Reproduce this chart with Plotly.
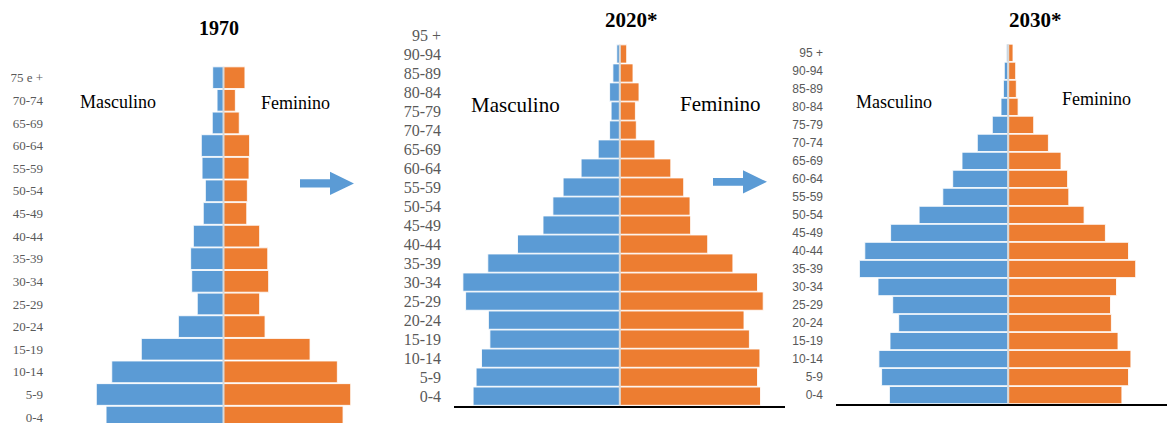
import plotly.graph_objects as go

# ---- data: share of population (%) by age group and sex ----
ages_1970 = ["0-4", "5-9", "10-14", "15-19", "20-24", "25-29", "30-34", "35-39",
             "40-44", "45-49", "50-54", "55-59", "60-64", "65-69", "70-74", "75 e +"]
male_1970 = [7.83, 8.48, 7.45, 5.48, 3.01, 1.75, 2.12, 2.19,
             2.01, 1.35, 1.21, 1.43, 1.48, 0.75, 0.43, 0.72]
female_1970 = [7.97, 8.48, 7.59, 5.77, 2.77, 2.41, 3.01, 2.95,
               2.41, 1.55, 1.59, 1.70, 1.74, 1.05, 0.79, 1.43]

ages_proj = ["0-4", "5-9", "10-14", "15-19", "20-24", "25-29", "30-34", "35-39",
             "40-44", "45-49", "50-54", "55-59", "60-64", "65-69", "70-74",
             "75-79", "80-84", "85-89", "90-94", "95 +"]
male_2020 = [4.89, 4.79, 4.61, 4.33, 4.38, 5.14, 5.23, 4.40, 3.41, 2.56,
             2.23, 1.89, 1.29, 0.72, 0.34, 0.29, 0.34, 0.23, 0.10, 0.0]
female_2020 = [4.69, 4.59, 4.67, 4.32, 4.14, 4.78, 4.59, 3.77, 2.93, 2.36,
               2.34, 2.13, 1.70, 1.17, 0.55, 0.52, 0.64, 0.44, 0.23, 0.0]
male_2030 = [3.96, 4.22, 4.31, 3.94, 3.65, 3.85, 4.34, 4.96, 4.78, 3.92,
             2.97, 2.18, 1.85, 1.54, 1.03, 0.53, 0.24, 0.16, 0.13, 0.06]
female_2030 = [3.79, 4.01, 4.09, 3.66, 3.44, 3.41, 3.61, 4.25, 4.01, 3.24,
               2.53, 2.02, 1.98, 1.76, 1.34, 0.85, 0.33, 0.27, 0.25, 0.16]

titles = ["1970", "2020*", "2030*"]

BLUE = "#5B9BD5"
ORANGE = "#ED7D31"
W, H = 1167, 425
SERIF = "Liberation Serif, Times New Roman, serif"
SANS = "Liberation Sans, Arial, sans-serif"


def px(x):
    return x / W


def py(y):
    return 1 - y / H


# panel geometry (pixels): left, right, zero position, px per unit, top, bottom,
# bottom clip in category units
panels = [
    dict(ages=ages_1970, m=male_1970, f=female_1970, l=48, r=390, c=223.5, k=15.0,
         top=66.7, bot=425, ymin=-0.26, font=dict(family=SERIF, size=13, color="#595959"),
         stand=4, line=False),
    dict(ages=ages_proj, m=male_2020, f=female_2020, l=454, r=785, c=619.8, k=30.0,
         top=25.6, bot=407.6, ymin=-0.5, font=dict(family=SERIF, size=16, color="#595959"),
         stand=12, line=True),
    dict(ages=ages_proj, m=male_2030, f=female_2030, l=836, r=1167, c=1008.2, k=30.0,
         top=44, bot=406, ymin=-0.5, font=dict(family=SANS, size=12, color="#595959"),
         stand=12, line=True),
]

fig = go.Figure()
layout = dict(
    width=W, height=H, margin=dict(l=0, r=0, t=0, b=0),
    paper_bgcolor="white", plot_bgcolor="white",
    barmode="relative", bargap=0.04, showlegend=False,
)
shapes = []
annotations = []

for i, p in enumerate(panels):
    n = "" if i == 0 else str(i + 1)
    xa, ya = "x" + n, "y" + n
    fig.add_trace(go.Bar(y=p["ages"], x=[-v for v in p["m"]], orientation="h",
                         marker=dict(color=BLUE, line=dict(color="rgba(255,255,255,0.85)", width=1)),
                         xaxis=xa, yaxis=ya, name="Masculino"))
    fig.add_trace(go.Bar(y=p["ages"], x=p["f"], orientation="h",
                         marker=dict(color=ORANGE, line=dict(color="rgba(255,255,255,0.85)", width=1)),
                         xaxis=xa, yaxis=ya, name="Feminino"))
    x_range = [-(p["c"] - p["l"]) / p["k"], (p["r"] - p["c"]) / p["k"]]
    ncat = len(p["ages"])
    layout["xaxis" + n] = dict(
        domain=[px(p["l"]), px(p["r"])], range=x_range, anchor=ya,
        showgrid=False, zeroline=False, showticklabels=False, ticks="",
        showline=p["line"], linecolor="black", linewidth=2, fixedrange=True,
    )
    layout["yaxis" + n] = dict(
        domain=[py(p["bot"]), py(p["top"])], range=[p["ymin"], ncat - 0.5],
        anchor=xa, type="category", categoryorder="array", categoryarray=p["ages"],
        showgrid=False, zeroline=False, showline=False, ticks="",
        tickfont=p["font"], ticklabelstandoff=p["stand"], fixedrange=True,
    )
    # centre divider, running only alongside the visible bars
    top_idx = max(j for j in range(ncat) if p["m"][j] + p["f"][j] > 0.1)
    shapes.append(dict(type="line", xref=xa, yref=ya, x0=0, x1=0, y0=-0.5, y1=top_idx + 0.48,
                       line=dict(color="#D9D9D9", width=2), layer="above"))

# titles and side labels
title_pos = [(219, 28.5, 20), (631, 20.5, 21), (1035, 20, 21)]
for t, (x, y, s) in zip(titles, title_pos):
    annotations.append(dict(text="<b>" + t + "</b>", x=px(x), y=py(y), xref="paper", yref="paper",
                            xanchor="center", yanchor="middle", showarrow=False,
                            font=dict(family=SERIF, size=s, color="black")))

side_pos = [((79, 102), (260, 103), 18), ((470, 105.5), (679, 104.5), 21),
            ((855, 102.5), (1061, 99.5), 18)]
for (mpos, fpos, s) in side_pos:
    for txt, (x, y) in (("Masculino", mpos), ("Feminino", fpos)):
        annotations.append(dict(text=txt, x=px(x), y=py(y), xref="paper", yref="paper",
                                xanchor="left", yanchor="middle", showarrow=False, borderpad=0,
                                font=dict(family=SERIF, size=s, color="black")))

# block arrows between panels
def arrow(x0, xh, x1, yc, shaft, head):
    pts = [(x0, yc - shaft / 2), (xh, yc - shaft / 2), (xh, yc - head / 2), (x1, yc),
           (xh, yc + head / 2), (xh, yc + shaft / 2), (x0, yc + shaft / 2)]
    path = "M " + " L ".join(f"{px(a):.5f},{py(b):.5f}" for a, b in pts) + " Z"
    return dict(type="path", xref="paper", yref="paper", path=path,
                fillcolor=BLUE, line=dict(width=0), layer="above")


shapes.append(arrow(300, 330, 354, 184.3, 8.3, 23.3))
shapes.append(arrow(713, 743, 767, 182.7, 7.7, 23.3))

layout["shapes"] = shapes
layout["annotations"] = annotations
fig.update_layout(**layout)

fig.write_html("out.html")
